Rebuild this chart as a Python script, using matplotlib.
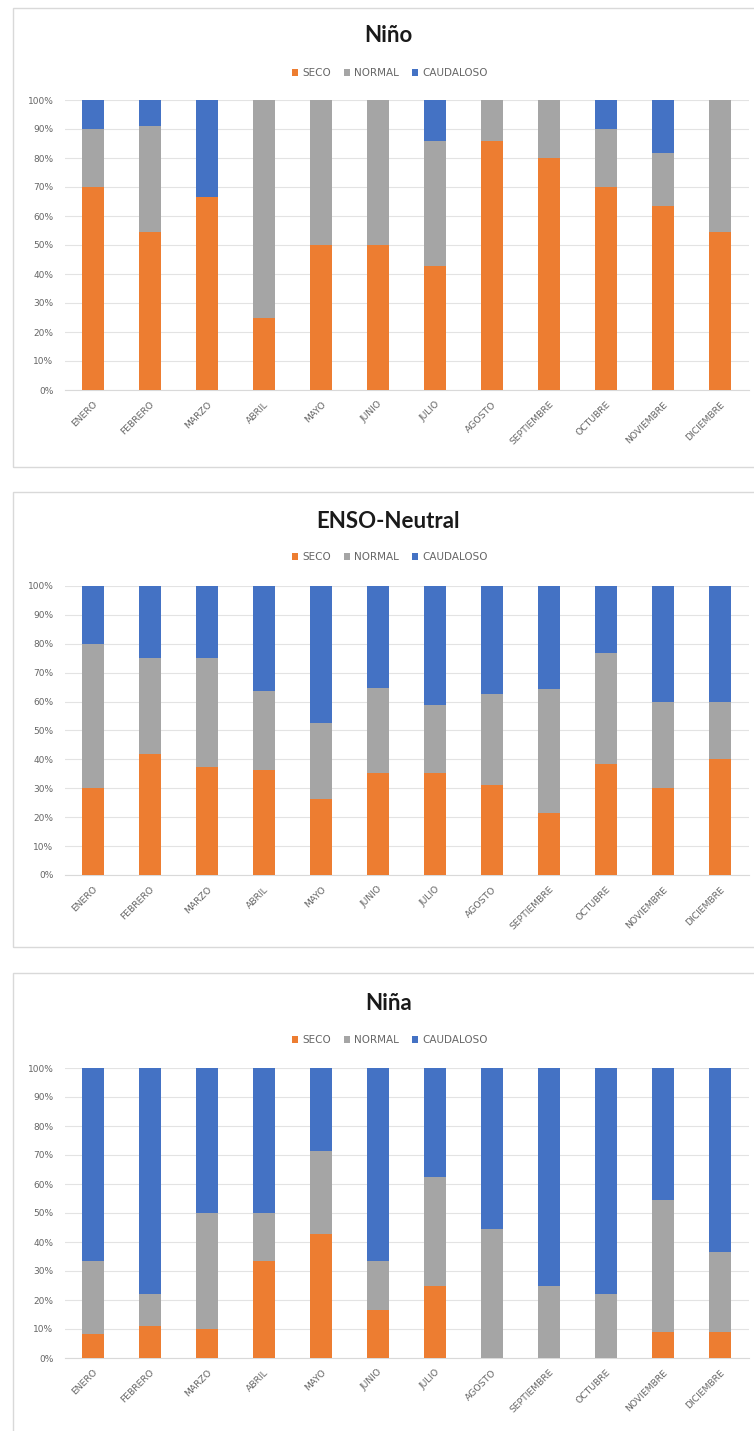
import matplotlib
matplotlib.use("Agg")
import matplotlib.pyplot as plt
from matplotlib.patches import Rectangle, Patch
from matplotlib.ticker import PercentFormatter, MultipleLocator

months = ["ENERO", "FEBRERO", "MARZO", "ABRIL", "MAYO", "JUNIO", "JULIO",
          "AGOSTO", "SEPTIEMBRE", "OCTUBRE", "NOVIEMBRE", "DICIEMBRE"]
series_names = ["SECO", "NORMAL", "CAUDALOSO"]
titles = ["Niño", "ENSO-Neutral", "Niña"]

nino_seco = [70.0, 54.5, 66.7, 25.0, 50.0, 50.0, 42.9, 85.7, 80.0, 70.0, 63.6, 54.5]
nino_normal = [20.0, 36.4, 0.0, 75.0, 50.0, 50.0, 42.9, 14.3, 20.0, 20.0, 18.2, 45.5]
nino_caud = [10.0, 9.1, 33.3, 0.0, 0.0, 0.0, 14.2, 0.0, 0.0, 10.0, 18.2, 0.0]

neutral_seco = [30.0, 41.7, 37.5, 36.4, 26.3, 35.3, 35.3, 31.3, 21.4, 38.5, 30.0, 40.0]
neutral_normal = [50.0, 33.3, 37.5, 27.3, 26.3, 29.4, 23.5, 31.2, 42.9, 38.4, 30.0, 20.0]
neutral_caud = [20.0, 25.0, 25.0, 36.3, 47.4, 35.3, 41.2, 37.5, 35.7, 23.1, 40.0, 40.0]

nina_seco = [8.3, 11.1, 10.0, 33.3, 42.9, 16.7, 25.0, 0.0, 0.0, 0.0, 9.1, 9.1]
nina_normal = [25.0, 11.1, 40.0, 16.7, 28.6, 16.7, 37.5, 44.4, 25.0, 22.2, 45.4, 27.3]
nina_caud = [66.7, 77.8, 50.0, 50.0, 28.5, 66.6, 37.5, 55.6, 75.0, 77.8, 45.5, 63.6]

panels = [
    (nino_seco, nino_normal, nino_caud),
    (neutral_seco, neutral_normal, neutral_caud),
    (nina_seco, nina_normal, nina_caud),
]

colors = ["#ED7D31", "#A5A5A5", "#4472C4"]
W, H = 754, 1431
fig = plt.figure(figsize=(W / 100, H / 100), dpi=100)

# pixel layout per panel: (border_top, border_bottom, title_y, legend_y, axes_top, axes_bottom)
layout = [
    (8, 467, 36, 73, 100, 390),
    (492, 947, 521, 557, 586, 875),
    (973, 1440, 1004, 1040, 1068, 1358),
]
ax_left, ax_right = 64.5, 748.5
text_gray = "#666666"

for (seco, normal, caud), title, (bt, bb, ty, ly, at, ab) in zip(panels, titles, layout):
    border = Rectangle((13 / W, 1 - bb / H), (W + 10 - 13) / W, (bb - bt) / H,
                       transform=fig.transFigure, facecolor="none",
                       edgecolor="#D9D9D9", linewidth=1.0, zorder=0)
    fig.patches.append(border)

    ax = fig.add_axes([ax_left / W, 1 - ab / H, (ax_right - ax_left) / W, (ab - at) / H])
    ax.set_facecolor("none")
    x = list(range(len(months)))
    fr = [v / 100 for v in seco]
    fn = [v / 100 for v in normal]
    fc = [v / 100 for v in caud]
    b2 = [a + b for a, b in zip(fr, fn)]
    ax.bar(x, fr, width=0.4, color=colors[0], zorder=3)
    ax.bar(x, fn, width=0.4, bottom=fr, color=colors[1], zorder=3)
    ax.bar(x, fc, width=0.4, bottom=b2, color=colors[2], zorder=3)

    ax.set_xlim(-0.5, len(months) - 0.5)
    ax.set_ylim(0, 1.0)
    ax.yaxis.set_major_locator(MultipleLocator(0.1))
    ax.yaxis.set_major_formatter(PercentFormatter(1.0, decimals=0))
    ax.grid(axis="y", color="#E3E3E3", linewidth=0.8, zorder=0)
    ax.set_axisbelow(True)
    for s in ["top", "right", "left"]:
        ax.spines[s].set_visible(False)
    ax.spines["bottom"].set_color("#D9D9D9")
    ax.tick_params(axis="both", length=0, labelsize=6.5, labelcolor=text_gray)
    ax.tick_params(axis="y", pad=8)
    ax.set_xticks(x)
    ax.set_xticklabels(months, rotation=45, ha="right", rotation_mode="anchor",
                       fontsize=6.7, color=text_gray)
    ax.tick_params(axis="x", pad=7)

    fig.text(0.515, 1 - ty / H, title, ha="center", va="center",
             fontsize=16, fontweight="bold", family="Lato", color="#1a1a1a")
    handles = [Patch(facecolor=c, label=n) for c, n in zip(colors, series_names)]
    fig.legend(handles=handles, loc="center", bbox_to_anchor=(0.517, 1 - ly / H),
               ncol=3, frameon=False, fontsize=7.5, handlelength=0.6, handleheight=0.6,
               handletextpad=0.4, columnspacing=1.2, labelcolor=text_gray)

fig.savefig("out.png", dpi=100, facecolor="white")
